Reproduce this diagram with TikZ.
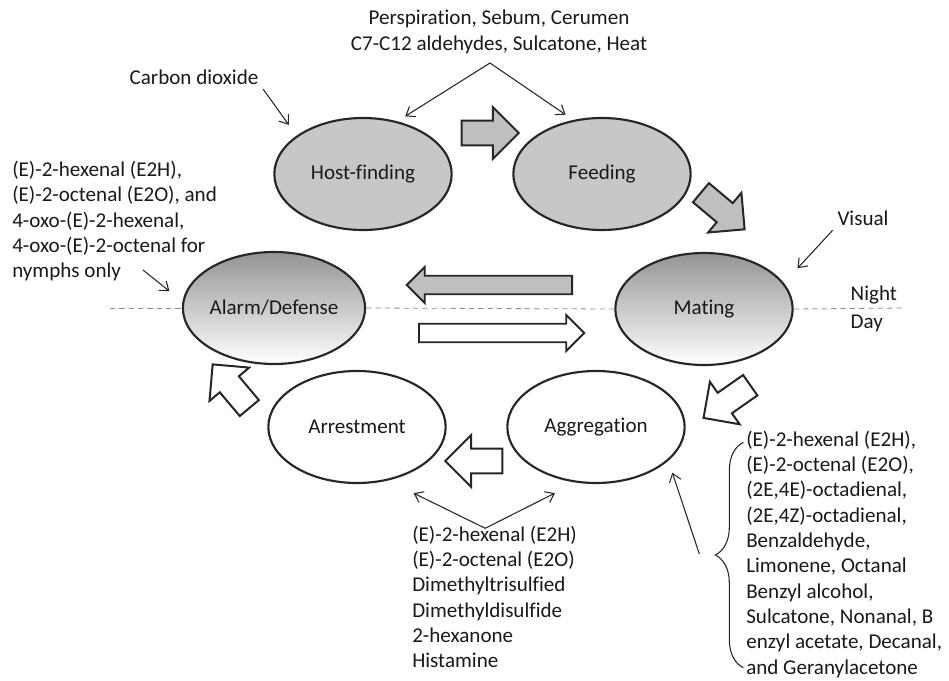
\documentclass[tikz,border=0pt]{standalone}
\usepackage{fontspec}
\setmainfont{Carlito}[Ligatures=NoCommon]
\usetikzlibrary{positioning,arrows.meta,shapes.geometric,shapes.arrows,decorations.pathreplacing,calc}

\begin{document}
\begin{tikzpicture}[
  x=0.75pt, y=-0.75pt,
  every node/.style={font=\fontsize{15.8}{19}\selectfont, text=black!90},
  phase/.style={ellipse, draw=black!85, line width=1.6pt, minimum width=133pt, minimum height=84pt, inner sep=0pt},
  hostphase/.style={phase, fill=black!22},
  shadephase/.style={phase, top color=black!42, bottom color=white},
  openphase/.style={phase, fill=white},
  bigarr/.style={single arrow, draw=black!85, line width=1.5pt, inner xsep=0pt, inner ysep=8.6pt, single arrow head extend=10.1pt, minimum height=42.75pt},
  longarr/.style={single arrow, draw=black!85, line width=1.4pt, inner xsep=0pt, inner ysep=6.2pt, single arrow head extend=6.6pt, minimum height=124pt},
  cue/.style={-{Straight Barb[length=6pt,width=9pt]}, draw=black!85, line width=0.8pt},
  daynight/.style={draw=black!45, dash pattern=on 4pt off 3pt, line width=0.6pt},
  bracket/.style={decorate, decoration={brace, amplitude=21pt}, draw=black!85, line width=0.8pt},
  cuetext/.style={align=left, inner sep=0pt, anchor=west}
]
\useasboundingbox (0,0) rectangle (949,681);

% phases of the cycle
\node[hostphase] (hf) at (363,174) {Host-finding};
\node[hostphase] (fd) at (602,174) {Feeding};
\node[shadephase] (al) at (274,308) {Alarm/Defense};
\node[shadephase] (mt) at (704,309) {Mating};
\node[openphase] (ar) at (357,427) {Arrestment};
\node[openphase] (ag) at (596,427) {Aggregation};

% night / day divider
\coordinate (dnL) at (110,308);
\coordinate (dnR) at (905,308);
\draw[daynight] (dnL) -- (al.west);
\draw[daynight] (al.east) -- (mt.west);
\draw[daynight] (mt.east) -- (dnR);
\node[anchor=west] (night) at (846,295) {Night};
\node[anchor=west] (day) at (846,323) {Day};

% block arrows between phases
\node[bigarr, fill=black!25] (hf2fd) at (484,133) {};
\node[bigarr, fill=black!25, rotate=-40] (fd2mt) at (718,207) {};
\node[bigarr, fill=white, rotate=-145] (mt2ag) at (732,398) {};
\node[bigarr, fill=white, rotate=180] (ag2ar) at (480,461) {};
\node[bigarr, fill=white, rotate=130] (ar2al) at (235,391) {};
\node[longarr, fill=black!25, rotate=180] (mt2al) at (494,285) {};
\node[longarr, fill=white] (al2mt) at (497,333) {};

% cues
\node[align=center] (hostcues) at (499,32)
  {Perspiration, Sebum, Cerumen\\C7-C12 aldehydes, Sulcatone, Heat};
\coordinate (apexT) at (490,63);
\draw[cue, shorten >=7pt] (apexT) -- (hf.57);
\draw[cue, shorten >=7pt] (apexT) -- (fd.118);

\node (co2) at (194,77) {Carbon dioxide};
\draw[cue, shorten >=10pt] (co2.south east) -- (hf.150);

\node (vis) at (863,218) {Visual};
\draw[cue, shorten >=15pt] (vis.south west) -- (mt.18);

\node[cuetext] (alarmcues) at (12,221)
  {(E)-2-hexenal (E2H),\\(E)-2-octenal (E2O), and\\4-oxo-(E)-2-hexenal,\\4-oxo-(E)-2-octenal for\\nymphs only};
\coordinate (nymTail) at (143,270);
\draw[cue, shorten >=12.5pt] (nymTail) -- (al.176);

\node[cuetext] (arrcues) at (412,597)
  {(E)-2-hexenal (E2H)\\(E)-2-octenal (E2O)\\Dimethyltrisulfied\\Dimethyldisulfide\\2-hexanone\\Histamine};
\coordinate (apexB) at ([shift={(-7pt,-2pt)}]arrcues.north);
\draw[cue, shorten >=21.5pt] (apexB) -- (ar.-60);
\draw[cue, shorten >=17.5pt] (apexB) -- (ag.-110);

\node[cuetext] (aggcues) at (746,554)
  {(E)-2-hexenal (E2H),\\(E)-2-octenal (E2O),\\(2E,4E)-octadienal,\\(2E,4Z)-octadienal,\\Benzaldehyde,\\Limonene, Octanal\\Benzyl alcohol,\\Sulcatone, Nonanal, B\\enzyl acetate, Decanal,\\and Geranylacetone};
\draw[bracket] ([shift={(-2pt,7.5pt)}]aggcues.south west) -- ([shift={(-2pt,-9pt)}]aggcues.north west);
\coordinate (brTail) at ([xshift=-35pt]aggcues.west);
\draw[cue, shorten >=9.4pt] (brTail) -- (ag.-25);
\end{tikzpicture}
\end{document}
